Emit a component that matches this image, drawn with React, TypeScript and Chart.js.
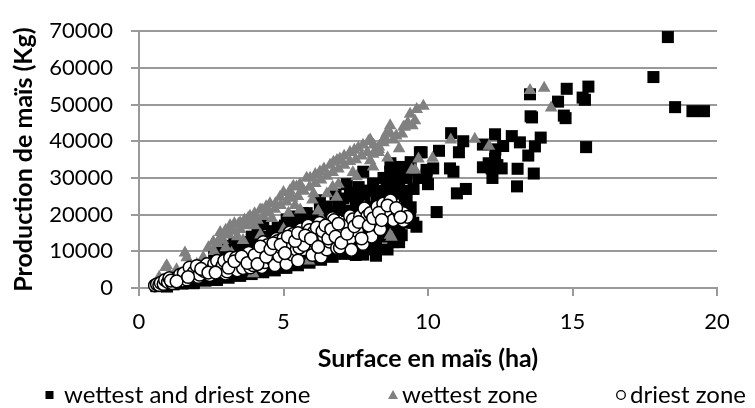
import React, { useEffect, useRef } from 'react';
import { Chart, registerables } from 'chart.js';

Chart.register(...registerables);

// ---------- data ----------
const seriesLabels = ['wettest and driest zone', 'wettest zone', 'driest zone'];
const xTickValues = [0, 5, 10, 15, 20];
const yTickValues = [0, 10000, 20000, 30000, 40000, 50000, 60000, 70000];
const xTitle = 'Surface en maïs (ha)';
const yTitle = 'Production de maïs (Kg)';

// wettest and driest zone (black squares)
const wettestAndDriest: [number, number][] = [
  [0.6, 500], [0.9, 600], [0.97, 400], [1.2, 1000], [1.5, 1200], [1.88, 1300], [1.9, 1400], [2.3, 2000],
  [2.69, 2200], [2.7, 2300], [3.1, 2800], [3.5, 3300], [3.5, 3900], [3.9, 3800], [4.19, 4800], [4.3, 4300],
  [4.7, 4800], [4.99, 5600], [5.1, 5500], [5.5, 6200], [5.8, 7400], [5.9, 6900], [6.3, 7700], [6.61, 9100],
  [6.7, 8500], [7.1, 9300], [7.3, 10900], [7.5, 9000], [7.9, 10500], [8.2, 12000], [8.5, 14000],
  [2.9, 11500], [3.3, 12500], [3.6, 11000], [3.9, 14000], [4.2, 13000], [4.3, 17400], [4.6, 15500],
  [5.05, 17000], [5.3, 19500], [5.66, 20400], [5.5, 14500], [6.0, 16500], [6.3, 20000],
  [7.0, 13000], [7.6, 14500], [8.3, 15500], [8.7, 17000], [8.8, 12500], [9.0, 15500], [8.4, 20500], [7.9, 18000],
  [2.6, 9500], [3.0, 10000], [3.4, 11500], [3.8, 12500], [4.1, 15500], [4.4, 14000], [4.8, 16500], [5.2, 17000],
  [5.4, 16000], [5.8, 18000], [6.1, 19500], [6.4, 17500], [6.7, 20500], [6.9, 23000], [7.2, 21000], [7.4, 25000],
  [7.5, 22500], [7.8, 24500], [8.1, 22000], [8.4, 25000], [8.6, 27000], [9.0, 27500], [9.2, 25000], [9.4, 22000],
  [9.5, 27000], [8.9, 21500], [8.1, 28500], [7.6, 27500], [7.3, 26000], [6.8, 25500], [9.1, 33000], [9.3, 32000],
  [8.7, 34000], [6.6, 15500], [7.0, 16000], [7.8, 16500], [8.5, 18000], [9.0, 12500], [8.6, 10500], [8.2, 8800],
  [7.76, 31700], [8.46, 30000], [8.86, 28300], [8.22, 15200],
  [9.72, 37000], [9.95, 32200], [8.69, 31700], [8.92, 30000], [9.26, 30000], [8.57, 29100], [8.33, 26500],
  [8.0, 26500], [7.76, 26500], [7.19, 28300], [7.07, 24400], [7.65, 23900], [8.22, 23900], [8.57, 23900],
  [8.8, 25700], [9.26, 17800], [9.38, 19600], [9.15, 21300], [6.5, 22200], [6.26, 21300], [6.03, 18700],
  [6.37, 12400], [6.26, 23900], [6.95, 21300], [5.8, 20400], [5.11, 18700], [5.57, 17800], [9.49, 17800],
  [7.42, 11700], [8.0, 10900], [7.76, 9100], [8.92, 19600], [9.84, 30000],
  [10.8, 42200], [11.22, 40000], [11.07, 37000], [10.38, 37400], [9.78, 37000], [9.4, 34300], [10.18, 32600],
  [10.76, 32600], [10.88, 31700], [9.95, 30900], [9.67, 30000], [10.0, 28300], [11.31, 27000], [11.0, 25800],
  [10.3, 20700], [9.6, 16700], [9.09, 14400], [9.26, 23900], [9.15, 26500], [9.03, 30900],
  [12.9, 41400], [13.18, 39700], [12.32, 41900], [12.6, 38700], [11.9, 39100], [12.33, 37800], [12.32, 35200],
  [11.9, 32900], [12.2, 32600], [12.55, 32600], [12.23, 30000], [12.4, 33500], [12.1, 34000],
  [13.53, 52800], [13.6, 46500], [13.55, 46800], [15.47, 38400], [13.9, 41000], [13.7, 38600], [13.47, 36100],
  [13.66, 31200], [13.08, 27700], [13.1, 32500],
  [15.55, 54900], [15.43, 51300], [15.35, 51900], [14.8, 54300], [14.5, 50800], [14.7, 47000], [14.76, 46300],
  [18.3, 68400], [17.8, 57500], [18.55, 49300], [19.15, 48200], [19.55, 48200],
];

// wettest zone (grey triangles)
const wettest: [number, number][] = [
  [0.7, 3000], [0.92, 5600], [0.96, 6100], [1.3, 5000], [1.59, 9600], [1.65, 8300], [2.0, 6500], [2.22, 8300],
  [2.5, 5000], [4.0, 8000], [5.3, 9000], [6.6, 11500], [7.5, 14000],
  [2.9, 13000], [3.1, 14500], [3.3, 15500], [3.5, 16000], [3.7, 17000], [3.9, 18000], [4.1, 18500], [4.3, 19500],
  [4.5, 20500], [4.7, 21500], [4.9, 22500], [5.1, 23500], [5.3, 24500], [5.5, 25000], [5.7, 26500], [5.9, 27500],
  [6.1, 28500], [6.3, 29500], [6.5, 30500], [6.7, 31500], [6.9, 32500], [7.1, 33500], [7.3, 34500], [7.5, 35000],
  [7.7, 36000], [7.9, 37000], [8.1, 36500], [8.3, 38500], [8.5, 41000], [8.7, 42000], [8.9, 41500], [9.1, 42000],
  [9.3, 45000], [9.0, 38000], [8.6, 35500], [2.4, 11000], [2.6, 10000], [3.4, 14000], [4.0, 17000], [4.6, 19000],
  [5.4, 22500], [6.0, 24000], [6.7, 27500], [7.4, 31500], [8.1, 33000], [3.2, 9500], [4.2, 14500], [5.0, 16000],
  [6.2, 21000],
  [2.57, 12600], [2.71, 12200], [2.81, 15200], [2.83, 14000], [3.0, 15800], [3.15, 17000], [3.17, 16100],
  [3.3, 17600], [3.44, 17400], [3.5, 17800], [3.65, 18600], [3.78, 19100], [3.84, 19600], [4.0, 20300],
  [4.19, 21300], [4.26, 21300], [4.4, 22200], [4.53, 23000], [4.72, 23000], [4.88, 24800], [5.0, 26100],
  [5.19, 24800], [5.22, 26500], [5.34, 27800], [5.45, 27600], [5.57, 28300], [5.65, 26500], [5.8, 30000],
  [5.92, 30000], [6.1, 31000], [6.26, 31700], [6.4, 32500], [6.61, 33500], [6.73, 34300], [6.85, 34800],
  [6.95, 35200], [7.1, 36000], [7.3, 37000], [7.45, 37600], [7.59, 38200], [7.75, 39000], [7.94, 40000],
  [8.0, 40400], [8.12, 39000], [8.29, 37800], [8.29, 37000], [8.46, 39600], [8.46, 40400], [8.57, 42200],
  [8.69, 44300], [8.8, 40400], [9.15, 43900], [9.2, 43900], [9.38, 47400], [9.46, 44300], [9.55, 45600],
  [9.61, 48700], [9.84, 49600],
  [8.0, 34700], [7.53, 30400], [6.9, 28300], [6.5, 25700], [6.04, 25700], [5.58, 21300], [5.17, 20400],
  [9.67, 35200], [9.55, 32200], [8.69, 14400], [8.0, 13500], [10.16, 35400], [9.44, 32200], [10.79, 40400],
  [11.62, 40600], [12.11, 38700], [13.53, 53900], [14.02, 54500], [14.26, 49100], [6.84, 24800], [5.88, 7400],
  [3.95, 3900], [4.5, 12000], [7.2, 18000], [7.8, 22000], [8.74, 13900], [6.3, 19000], [3.0, 11000], [3.6, 13000],
];

// driest zone (open circles)
const driest: [number, number][] = [
  [0.55, 700], [0.62, 1000], [0.7, 800], [0.75, 1400], [0.85, 1100], [0.9, 2200], [1.0, 1600], [1.05, 2700],
  [1.15, 1300], [1.25, 2200], [1.35, 3000], [1.42, 3600], [1.5, 2000], [1.55, 4000], [1.65, 2300], [1.75, 5600],
  [1.8, 3100], [1.9, 4300], [2.0, 6000], [2.05, 3000], [2.1, 3600], [2.25, 4600], [2.35, 6500], [2.45, 3500],
  [2.55, 5300], [2.6, 6600], [2.7, 7400], [2.8, 4900], [2.9, 6200], [2.95, 7400], [3.0, 3900], [3.05, 4500],
  [3.15, 8300], [3.25, 6200], [3.35, 8200], [3.4, 4800], [3.5, 7000], [3.6, 5400], [3.7, 9100], [3.8, 9600],
  [3.85, 5600], [3.95, 6200], [4.05, 8000], [4.15, 10500], [4.25, 5700], [4.3, 12500], [4.35, 7000],
  [4.45, 11700], [4.5, 9400], [4.6, 7800], [4.7, 6200], [4.75, 13400], [4.8, 12800], [4.85, 8700],
  [4.95, 10800], [5.0, 13500], [5.1, 6500], [5.2, 10400], [5.22, 15200], [5.25, 11700], [5.3, 9100],
  [5.35, 14800], [5.45, 10400], [5.5, 7500], [5.55, 11000], [5.6, 16000], [5.65, 13000], [5.7, 11700],
  [5.85, 17000], [5.9, 15800], [6.0, 9000], [6.05, 15200], [6.1, 12500], [6.25, 17800], [6.3, 8500],
  [6.4, 14000], [6.5, 10500], [6.6, 12600], [6.7, 19100], [6.75, 18500], [6.85, 10900], [6.95, 11000],
  [7.05, 15000], [7.15, 17000], [7.3, 19600], [7.3, 13500], [7.35, 10400], [7.4, 18700], [7.55, 15500],
  [7.65, 19600], [7.75, 12000], [7.8, 21700], [7.9, 19600], [8.0, 20400], [8.05, 14000], [8.2, 17500],
  [8.25, 22200], [8.35, 16000], [8.45, 23000], [8.55, 21000], [8.7, 23900], [8.8, 18500], [9.0, 20500],
  [9.15, 20400], [9.15, 18300], [9.28, 19400],
  [1.1, 2000], [1.3, 1800], [1.7, 3000], [2.15, 5200], [2.4, 4200], [2.65, 4200], [3.1, 5500], [3.3, 7300],
  [3.55, 8600], [3.75, 6800], [4.0, 9000], [4.1, 6500], [4.2, 11300], [4.4, 8500], [4.55, 10600], [4.65, 12200],
  [4.9, 11800], [5.05, 9500], [5.15, 14000], [5.4, 12800], [5.5, 15000], [5.75, 14300], [5.95, 13500],
  [6.15, 16500], [6.2, 11200], [6.35, 15500], [6.45, 17000], [6.55, 13500], [6.65, 16000], [6.8, 14000],
  [6.9, 17500], [7.0, 12300], [7.2, 14800], [7.45, 16800], [7.6, 18000], [7.7, 13500], [7.95, 17000],
  [8.1, 19000], [8.3, 20500], [8.4, 18500], [8.6, 22500], [8.9, 21800], [9.05, 19300],
];

// ---------- styles ----------
const FONT = 'Lato';
const TICK_SIZE = 22;
const LEGEND_SIZE = 24;
const TITLE_SIZE = 25;
const GRID = '#999999';
const TRI_GREY = '#808080';

const legendLayout = [
  { markerX: 49.5, textX: 64 },
  { markerX: 393, textX: 402 },
  { markerX: 621, textX: 630 },
];
const LEGEND_Y = 395;

const legendPlugin = {
  id: 'excelLegend',
  afterDraw(chart: any) {
    const ctx = chart.ctx as CanvasRenderingContext2D;
    ctx.save();
    ctx.font = `${LEGEND_SIZE}px ${FONT}`;
    ctx.textBaseline = 'middle';
    ctx.textAlign = 'left';
    chart.data.datasets.forEach((ds: any, i: number) => {
      const pos = legendLayout[i];
      const cx = pos.markerX;
      const cy = LEGEND_Y;
      if (ds.pointStyle === 'rect') {
        ctx.fillStyle = ds.backgroundColor;
        ctx.fillRect(cx - 4, cy - 4, 8, 8);
      } else if (ds.pointStyle === 'triangle') {
        ctx.fillStyle = ds.backgroundColor;
        ctx.beginPath();
        ctx.moveTo(cx, cy - 5);
        ctx.lineTo(cx + 5, cy + 4);
        ctx.lineTo(cx - 5, cy + 4);
        ctx.closePath();
        ctx.fill();
      } else {
        ctx.fillStyle = ds.backgroundColor;
        ctx.strokeStyle = ds.borderColor;
        ctx.lineWidth = 1.3;
        ctx.beginPath();
        ctx.arc(cx, cy, 4.3, 0, Math.PI * 2);
        ctx.fill();
        ctx.stroke();
      }
      ctx.fillStyle = '#000';
      ctx.fillText(ds.label, pos.textX, cy);
    });
    ctx.restore();
  },
};

const toPoints = (arr: [number, number][]) => arr.map(([x, y]) => ({ x, y }));

export default function App() {
  const ref = useRef<HTMLCanvasElement | null>(null);

  useEffect(() => {
    if (!ref.current) return;
    const chart = new Chart(ref.current, {
      type: 'scatter',
      data: {
        datasets: [
          {
            label: seriesLabels[0],
            data: toPoints(wettestAndDriest),
            pointStyle: 'rect',
            pointRadius: 8.5,
            backgroundColor: '#000000',
            borderColor: '#000000',
            borderWidth: 0,
            order: 3,
            clip: false,
          } as any,
          {
            label: seriesLabels[1],
            data: toPoints(wettest),
            pointStyle: 'triangle',
            pointRadius: 7.3,
            backgroundColor: TRI_GREY,
            borderColor: TRI_GREY,
            borderWidth: 0,
            order: 2,
            clip: false,
          } as any,
          {
            label: seriesLabels[2],
            data: toPoints(driest),
            pointStyle: 'circle',
            pointRadius: 6.3,
            backgroundColor: '#ffffff',
            borderColor: '#000000',
            borderWidth: 1.5,
            order: 1,
            clip: false,
          } as any,
        ],
      },
      options: {
        responsive: false,
        animation: false,
        events: [],
        layout: { padding: { left: 0, right: 38, top: 20, bottom: 0 } },
        plugins: {
          legend: { display: false },
          tooltip: { enabled: false },
        },
        scales: {
          x: {
            type: 'linear',
            min: xTickValues[0],
            max: xTickValues[xTickValues.length - 1],
            afterBuildTicks: (scale: any) => {
              scale.ticks = xTickValues.map((v) => ({ value: v }));
            },
            afterFit: (scale: any) => {
              scale.height = 120;
            },
            grid: {
              drawOnChartArea: false,
              drawTicks: true,
              tickLength: 8,
              color: GRID,
              lineWidth: 2,
            },
            border: { display: true, color: GRID, width: 2 },
            ticks: {
              padding: 13,
              color: '#000',
              font: { family: FONT, size: TICK_SIZE },
              callback: (v: any) => String(v),
            },
            title: {
              display: true,
              text: xTitle,
              color: '#000',
              font: { family: FONT, size: TITLE_SIZE, weight: 'bold' },
              padding: { top: 0, bottom: 34 },
            },
          },
          y: {
            type: 'linear',
            min: yTickValues[0],
            max: yTickValues[yTickValues.length - 1],
            afterBuildTicks: (scale: any) => {
              scale.ticks = yTickValues.map((v) => ({ value: v }));
            },
            afterFit: (scale: any) => {
              scale.width = 139;
            },
            grid: {
              drawTicks: true,
              tickLength: 8,
              color: GRID,
              lineWidth: 2,
            },
            border: { display: true, color: GRID, width: 2 },
            ticks: {
              padding: 18,
              color: '#000',
              font: { family: FONT, size: TICK_SIZE },
              callback: (v: any) => String(v),
            },
            title: {
              display: true,
              text: yTitle,
              color: '#000',
              font: { family: FONT, size: TITLE_SIZE, weight: 'bold' },
              padding: { top: 9, bottom: 0 },
            },
          },
        },
      },
      plugins: [legendPlugin],
    });
    return () => chart.destroy();
  }, []);

  return (
    <div style={{ position: 'absolute', left: 0, top: 0, width: 755, height: 408, background: '#fff' }}>
      <canvas ref={ref} width={755} height={408} style={{ display: 'block' }} />
    </div>
  );
}
